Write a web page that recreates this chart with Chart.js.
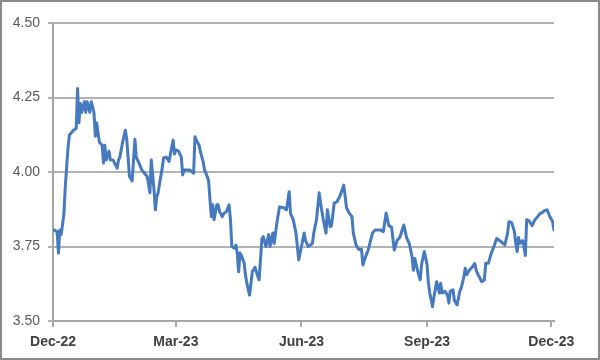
<!DOCTYPE html>
<html>
<head>
<meta charset="utf-8">
<script src="https://cdn.jsdelivr.net/npm/chart.js@4.4.0/dist/chart.umd.min.js"></script>
<style>
  body { margin: 0; background: #fff; }
  #box { width: 600px; height: 360px; box-sizing: border-box; border: 2px solid #8a8a8a; background: #fff; }
  canvas { display: block; }
</style>
</head>
<body>
<div id="box"><canvas id="chart" width="596" height="356"></canvas></div>
<script>
// days since 1 Dec 2022 and the rate on that day
const days = [1, 3, 4, 5, 6, 8, 9, 10, 11, 12, 15, 17, 18, 19, 20, 21, 23, 24, 25, 27, 28, 30, 31, 32, 33, 34, 36, 37, 38, 39,
  41, 42, 44, 47, 48, 49, 51, 53, 54, 55, 56, 58, 60, 61, 63, 65, 67, 69, 70, 71, 72, 74, 75, 76, 77, 78, 80, 81, 83, 85,
  86, 88, 89, 90, 92, 94, 95, 96, 98, 100, 102, 103, 104, 105, 107, 108, 110, 111, 113, 114, 115, 116, 117, 118, 120, 121, 122, 124, 125, 127,
  129, 130, 131, 133, 134, 135, 136, 137, 138, 140, 141, 142, 144, 146, 148, 150, 151, 153, 154, 156, 158, 159, 161, 162, 164, 166, 169, 171, 173, 174,
  176, 178, 180, 182, 184, 185, 187, 190, 191, 193, 195, 196, 198, 200, 201, 203, 204, 206, 208, 210, 213, 215, 217, 219, 220, 222, 224, 226, 227, 229,
  231, 234, 236, 240, 242, 244, 246, 248, 250, 252, 254, 257, 259, 261, 263, 264, 265, 267, 269, 270, 272, 274, 275, 276, 278, 279, 281, 283, 284, 285,
  287, 289, 290, 291, 293, 294, 296, 298, 299, 301, 302, 303, 305, 307, 309, 310, 312, 314, 316, 317, 319, 321, 323, 325, 327, 330, 331, 333, 334, 336,
  338, 339, 340, 341, 342, 344, 345, 346, 347, 349, 351, 353, 355, 357, 358, 360, 362, 364, 366, 367];
const rates = [3.805, 3.80, 3.728, 3.805, 3.79, 3.86, 3.95, 4.017, 4.08, 4.124, 4.14, 4.147, 4.28, 4.165, 4.23, 4.20, 4.236, 4.20, 4.236, 4.20, 4.236, 4.20, 4.12, 4.165, 4.13, 4.10, 4.09, 4.03, 4.09, 4.04,
  4.07, 4.04, 4.04, 4.013, 4.04, 4.05, 4.10, 4.14, 4.11, 4.05, 3.985, 3.97, 4.11, 4.05, 4.03, 4.007, 3.996, 3.985, 3.96, 3.93, 4.04, 3.94, 3.873, 3.917, 3.93, 3.96, 4.013, 4.047, 4.05, 4.035,
  4.06, 4.107, 4.06, 4.074, 4.07, 4.05, 3.99, 4.007, 4.007, 4.007, 4.00, 3.996, 4.118, 4.107, 4.09, 4.068, 4.035, 4.007, 3.985, 3.97, 3.906, 3.85, 3.89, 3.84, 3.89, 3.89, 3.867, 3.85, 3.86, 3.867,
  3.89, 3.84, 3.75, 3.744, 3.755, 3.727, 3.665, 3.728, 3.72, 3.695, 3.654, 3.627, 3.587, 3.665, 3.68, 3.65, 3.638, 3.775, 3.783, 3.75, 3.79, 3.75, 3.795, 3.76, 3.83, 3.883, 3.88, 3.873, 3.934, 3.86,
  3.84, 3.795, 3.705, 3.75, 3.795, 3.77, 3.75, 3.76, 3.795, 3.84, 3.93, 3.896, 3.84, 3.795, 3.873, 3.816, 3.82, 3.896, 3.90, 3.917, 3.956, 3.88, 3.862, 3.85, 3.795, 3.755, 3.74, 3.74, 3.688, 3.716,
  3.74, 3.795, 3.805, 3.805, 3.80, 3.862, 3.82, 3.815, 3.738, 3.77, 3.78, 3.822, 3.78, 3.76, 3.716, 3.67, 3.71, 3.67, 3.638, 3.69, 3.733, 3.69, 3.627, 3.594, 3.548, 3.58, 3.632, 3.594, 3.627, 3.594,
  3.60, 3.587, 3.56, 3.60, 3.605, 3.57, 3.554, 3.60, 3.61, 3.649, 3.677, 3.655, 3.67, 3.68, 3.693, 3.67, 3.65, 3.632, 3.638, 3.694, 3.694, 3.727, 3.75, 3.777, 3.77, 3.76, 3.755, 3.795, 3.833, 3.83,
  3.80, 3.76, 3.733, 3.78, 3.76, 3.77, 3.75, 3.72, 3.84, 3.835, 3.82, 3.84, 3.85, 3.862, 3.862, 3.87, 3.873, 3.85, 3.833, 3.805];

// x axis tick labels and the day each one sits on
const tickLabels = ['Dec-22', 'Mar-23', 'Jun-23', 'Sep-23', 'Dec-23'];
const tickDays = [0, 90, 182, 274, 365];
// y axis ticks
const yTicks = [3.50, 3.75, 4.00, 4.25, 4.50];

const points = days.map((d, i) => ({ x: d, y: rates[i] }));

const ctx = document.getElementById('chart').getContext('2d');
new Chart(ctx, {
  type: 'line',
  data: {
    datasets: [{
      data: points,
      borderColor: '#4679bd',
      borderWidth: 3,
      borderJoinStyle: 'round',
      borderCapStyle: 'round',
      pointRadius: 0,
      tension: 0,
      fill: false
    }]
  },
  options: {
    responsive: false,
    animation: false,
    devicePixelRatio: 1,
    layout: { padding: { top: 21, right: 44, left: 0, bottom: 0 } },
    plugins: { legend: { display: false }, tooltip: { enabled: false } },
    scales: {
      x: {
        type: 'linear',
        min: 0,
        max: 367,
        afterBuildTicks: s => { s.ticks = tickDays.map(v => ({ value: v })); },
        afterFit: s => { s.height = 37; },
        grid: { drawOnChartArea: false, drawTicks: true, tickLength: 6, color: '#a6a6a6', lineWidth: 2 },
        border: { display: true, color: '#a6a6a6', width: 2 },
        ticks: {
          autoSkip: false,
          maxRotation: 0,
          padding: 7,
          color: '#404040',
          font: { family: 'Liberation Sans', size: 14, weight: 'bold' },
          callback: v => tickLabels[tickDays.indexOf(v)]
        }
      },
      y: {
        min: 3.5,
        max: 4.5,
        afterBuildTicks: s => { s.ticks = yTicks.map(v => ({ value: v })); },
        afterFit: s => { s.width = 51; },
        grid: { color: '#b3b3b3', lineWidth: 2, tickLength: 5 },
        border: { display: true, color: '#a6a6a6', width: 2 },
        ticks: {
          padding: 8,
          color: '#595959',
          font: { family: 'Liberation Sans', size: 14 },
          callback: v => v.toFixed(2)
        }
      }
    }
  }
});
</script>
</body>
</html>
